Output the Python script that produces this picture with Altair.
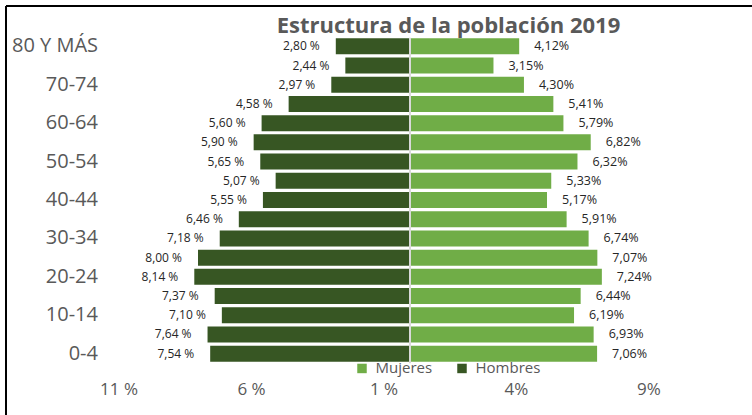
import altair as alt
import pandas as pd

# ---- data (top to bottom as shown) ----
title_text = "Estructura de la población 2019"
groups = ["80 Y MÁS", "75-79", "70-74", "65-69", "60-64", "55-59", "50-54", "45-49",
          "40-44", "35-39", "30-34", "25-29", "20-24", "15-19", "10-14", "5-9", "0-4"]
hombres = [2.80, 2.44, 2.97, 4.58, 5.60, 5.90, 5.65, 5.07, 5.55, 6.46, 7.18, 8.00,
           8.14, 7.37, 7.10, 7.64, 7.54]
mujeres = [4.12, 3.15, 4.30, 5.41, 5.79, 6.82, 6.32, 5.33, 5.17, 5.91, 6.74, 7.07,
           7.24, 6.44, 6.19, 6.93, 7.06]
shown_groups = ["80 Y MÁS", "70-74", "60-64", "50-54", "40-44", "30-34", "20-24",
                "10-14", "0-4"]
x_ticks = [-11, -6, -1, 4, 9]
sexes = ["Mujeres", "Hombres"]
colors = ["#70AD47", "#375623"]

rows = []
for g, h, m in zip(groups, hombres, mujeres):
    rows.append({"grupo": g, "sexo": "Hombres", "valor": -h,
                 "etiqueta": f"{h:.2f}".replace(".", ",") + " %"})
    rows.append({"grupo": g, "sexo": "Mujeres", "valor": m,
                 "etiqueta": f"{m:.2f}".replace(".", ",") + "%"})
df = pd.DataFrame(rows)

W = 530
H = 326.6
PAD_L, PAD_T = 118.5, 36.7
PAD_R = 752 - PAD_L - W
PAD_B = 415 - PAD_T - H
GREY = "#595959"

x_enc = alt.X("valor:Q", stack=None,
              scale=alt.Scale(domain=[-11, 9], nice=False, zero=False),
              axis=alt.Axis(values=x_ticks, title=None, grid=False, ticks=False,
                            domain=False, labelFontSize=17, labelColor=GREY,
                            labelPadding=18, labelFlush=False,
                            labelExpr="datum.value < 0 ? (-datum.value) + ' %' : datum.value + '%'"))
y_enc = alt.Y("grupo:N", sort=groups,
              scale=alt.Scale(paddingInner=0.167, paddingOuter=0.0835),
              axis=alt.Axis(values=shown_groups, title=None, ticks=False, tickSize=0,
                            domain=False, labelFontSize=20, labelColor=GREY,
                            labelPadding=21))

base = alt.Chart(df)

bars = base.mark_bar().encode(
    x=x_enc,
    y=y_enc,
    color=alt.Color("sexo:N", scale=alt.Scale(domain=sexes, range=colors),
                    legend=alt.Legend(title=None, orient="none", direction="horizontal",
                                      legendX=236, legendY=324, symbolType="square",
                                      symbolSize=90, symbolStrokeWidth=0,
                                      labelFontSize=15, labelColor=GREY,
                                      labelOffset=6, columnPadding=22, padding=0)),
)

txt_h = base.transform_filter(alt.datum.sexo == "Hombres").mark_text(
    align="right", baseline="middle", dx=-16, fontSize=12, color="#262626"
).encode(x="valor:Q", y=alt.Y("grupo:N", sort=groups), text="etiqueta:N")

txt_m = base.transform_filter(alt.datum.sexo == "Mujeres").mark_text(
    align="left", baseline="middle", dx=15, fontSize=12.5, color="#262626"
).encode(x="valor:Q", y=alt.Y("grupo:N", sort=groups), text="etiqueta:N")

one = pd.DataFrame({"k": [0]})
center = alt.Chart(one).mark_rule(color="#D9D9D9", strokeWidth=2).encode(
    x=alt.datum(0), y=alt.value(1), y2=alt.value(H)
)
frame_top = alt.Chart(one).mark_rule(color="#000000", strokeWidth=2).encode(
    x=alt.value(6 - PAD_L), x2=alt.value(760 - PAD_L), y=alt.value(6 - PAD_T)
)
frame_left = alt.Chart(one).mark_rule(color="#000000", strokeWidth=2).encode(
    x=alt.value(6 - PAD_L), y=alt.value(6 - PAD_T), y2=alt.value(420 - PAD_T)
)
title_mark = alt.Chart(pd.DataFrame({"t": [title_text]})).mark_text(
    align="center", baseline="alphabetic", fontSize=22, fontWeight="bold", color=GREY
).encode(x=alt.value(448.5 - PAD_L), y=alt.value(33 - PAD_T), text="t:N")

chart = alt.layer(bars, center, txt_h, txt_m, frame_top, frame_left, title_mark).properties(
    width=W, height=H,
    autosize=alt.AutoSizeParams(type="none"),
    padding={"left": PAD_L, "top": PAD_T, "right": PAD_R, "bottom": PAD_B},
    background="white",
).configure(font="Open Sans").configure_view(stroke=None)

chart.save("out.html", embed_options={"renderer": "svg", "actions": False})
